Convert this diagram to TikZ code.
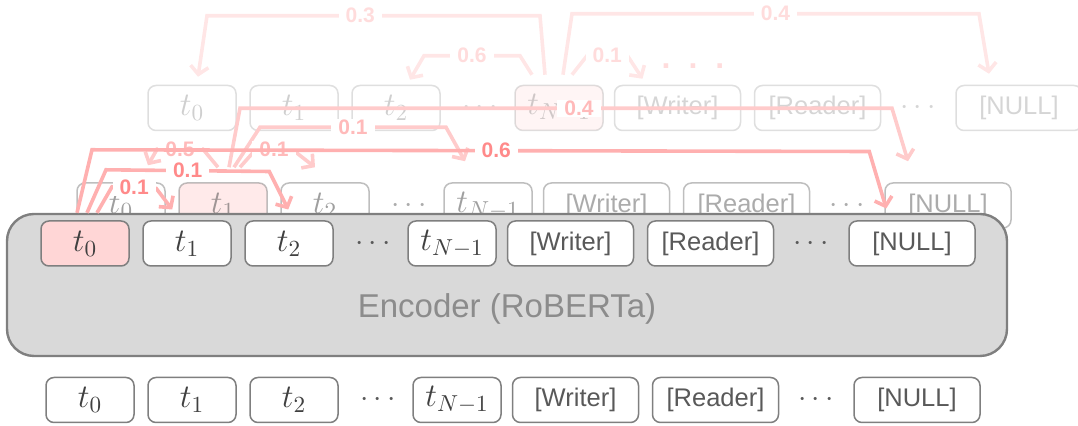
\documentclass[tikz,border=0pt]{standalone}
\usepackage{fix-cm}
\usepackage{fontspec}
\setmainfont{Liberation Sans}
\usepackage{tikz}
\usetikzlibrary{arrows.meta,calc}

\definecolor{tokline}{HTML}{7F7F7F}
\definecolor{mathgray}{HTML}{404040}
\definecolor{wordgray}{HTML}{595959}
\definecolor{hlpink}{HTML}{FFD6D6}
\definecolor{encfill}{HTML}{D9D9D9}
\definecolor{enctext}{HTML}{8C8C8C}
\definecolor{arrfront}{HTML}{FFB0B0}
\definecolor{lblfront}{HTML}{FF8A8A}
\definecolor{arrmid}{HTML}{FFCBCB}
\definecolor{lblmid}{HTML}{FFBABA}
\definecolor{arrback}{HTML}{FFE6E6}
\definecolor{lblback}{HTML}{FFDCDC}

\tikzset{
  tok/.style={draw=tokline, fill=white, line width=0.75pt, rounded corners=4pt,
    minimum width=44pt, minimum height=22.5pt, inner sep=0pt, text=mathgray,
    font=\fontsize{16.5}{18}\selectfont},
  btok/.style={tok, minimum width=63pt, text=wordgray,
    font=\fontsize{12.75}{15}\selectfont},
  dotsn/.style={text=wordgray, inner sep=0pt, font=\fontsize{15}{17}\selectfont},
  hl/.style={fill=hlpink},
  pick0/.style={}, pick1/.style={}, pickN/.style={},
  encbox/.style={draw=tokline, fill=encfill, line width=1.2pt, rounded corners=13.5pt,
    minimum width=500pt, minimum height=71pt},
  anylabel/.style={fill=white, inner xsep=3.5pt, inner ysep=0.5pt,
    font=\bfseries\fontsize{10.5}{12}\selectfont},
  flabel/.style={anylabel, text=lblfront},
  mlabel/.style={anylabel, text=lblmid},
  blabel/.style={anylabel, text=lblback},
  anyarr/.style={line width=1.8pt, -{Straight Barb[length=4pt,width=9pt]}},
  frontarr/.style={anyarr, draw=arrfront},
  midarr/.style={anyarr, draw=arrmid},
  backarr/.style={anyarr, draw=arrback},
}

% one row of tokens: name prefix, left x of t_0, centre y
\newcommand{\tokrow}[3]{%
  \node[tok, pick0] (#1t0) at (#2+44,#3)    {$t_0$};
  \node[tok, pick1] (#1t1) at (#2+146,#3)   {$t_1$};
  \node[tok]        (#1t2) at (#2+248,#3)   {$t_2$};
  \node[dotsn]      (#1da) at (#2+332,#3)   {$\cdots$};
  \node[tok, pickN] (#1tN) at (#2+411,#3)   {$t_{N-1}$};
  \node[btok]       (#1wr) at (#2+529.5,#3) {[Writer]};
  \node[btok]       (#1rd) at (#2+669.5,#3) {[Reader]};
  \node[dotsn]      (#1db) at (#2+770,#3)   {$\cdots$};
  \node[btok]       (#1nl) at (#2+871,#3)   {[NULL]};
}

\begin{document}
\begin{tikzpicture}[x=0.5pt,y=-0.5pt]
  \useasboundingbox (0,0) rectangle (1078,426);

  %% back layer
  \begin{scope}[opacity=0.25, pickN/.style={hl}]
    \tokrow{a}{148}{108}
  \end{scope}
  \draw[backarr] ($(atN.north)+(-14,-10)$) -- ++(-5,-59)
    -- node[blabel,pos=0.54]{0.3} ($(at0.north)+(15,-69)$) -- ($(at0.north)+(6,-8)$);
  \draw[backarr] ($(atN.north)+(4,-10)$) -- ++(9,-61)
    -- node[blabel]{0.4} ($(anl.north)+(-40,-71)$) -- ($(anl.north)+(-30,-11)$);
  \draw[backarr] ($(atN.north)+(-27,-10)$) -- ++(-12,-19)
    -- node[blabel]{0.6} ($(at2.north)+(28,-29)$) -- ($(at2.north)+(14,-5)$);
  \draw[backarr] ($(atN.north)+(13,-10)$) -- ++(15,-19)
    -- node[blabel]{0.1} ($(awr.north)+(-50,-29)$) -- ($(awr.north)+(-35,-6)$);
  \node[text=lblback, inner sep=0pt, font=\bfseries\fontsize{16}{18}\selectfont]
    (more) at (693,66) {.\hspace{9pt}.\hspace{9pt}.};

  %% middle layer
  \begin{scope}[opacity=0.5, pick1/.style={hl}]
    \tokrow{m}{77}{205.5}
  \end{scope}
  \draw[midarr] ($(mt1.north)+(6,-15)$) -- ++(11,-59)
    -- node[mlabel,pos=0.52]{0.4} ($(mnl.north)+(-56,-74)$) -- ($(mnl.north)+(-40,-21)$);
  \draw[midarr] ($(mt1.north)+(11,-15)$) -- ++(26,-40)
    -- node[mlabel]{0.1} ($(mtN.north)+(-42,-55)$) -- ($(mtN.north)+(-23,-21)$);
  \draw[midarr] ($(mt1.north)+(17,-15)$) -- ++(16,-18)
    -- node[mlabel]{0.1} ($(mt2.north)+(-33,-33)$) -- ($(mt2.north)+(-10,-15)$);
  \draw[midarr] ($(mt1.north)+(-5,-15)$) -- ++(-15,-18)
    -- node[mlabel]{0.5} ($(mt0.north)+(36,-33)$) -- ($(mt0.north)+(27,-17)$);

  %% encoder
  \node[encbox] (enc) at (507,285) {};
  \node[text=enctext, font=\fontsize{16.5}{20}\selectfont] (enctxt) at (507,309)
    {Encoder (RoBERTa)};
  \begin{scope}[pick0/.style={hl}]
    \tokrow{e}{41}{243.5}
  \end{scope}

  % attention of t_0
  \coordinate (e0top) at (et0.north |- enc.north);
  \draw[frontarr] ($(e0top)+(-8,0)$) -- ++(15,-63)
    -- node[flabel,pos=0.52]{0.6} ($(mnl.west)+(-15,-54)$) -- ($(mnl.west)+(2,3)$);
  \draw[frontarr] ($(e0top)+(2,0)$) -- ++(19,-43)
    -- node[flabel]{0.1} ($(mt2.west)+(-11,-34)$) -- ($(mt2.west)+(8,4)$);
  \draw[frontarr] ($(e0top)+(12,0)$) -- ++(15,-26)
    -- node[flabel]{0.1} ($(mt1.west)+(-22,-17)$) -- ($(mt1.west)+(-6,4)$);

  %% input tokens
  \tokrow{b}{46}{400}
\end{tikzpicture}
\end{document}
